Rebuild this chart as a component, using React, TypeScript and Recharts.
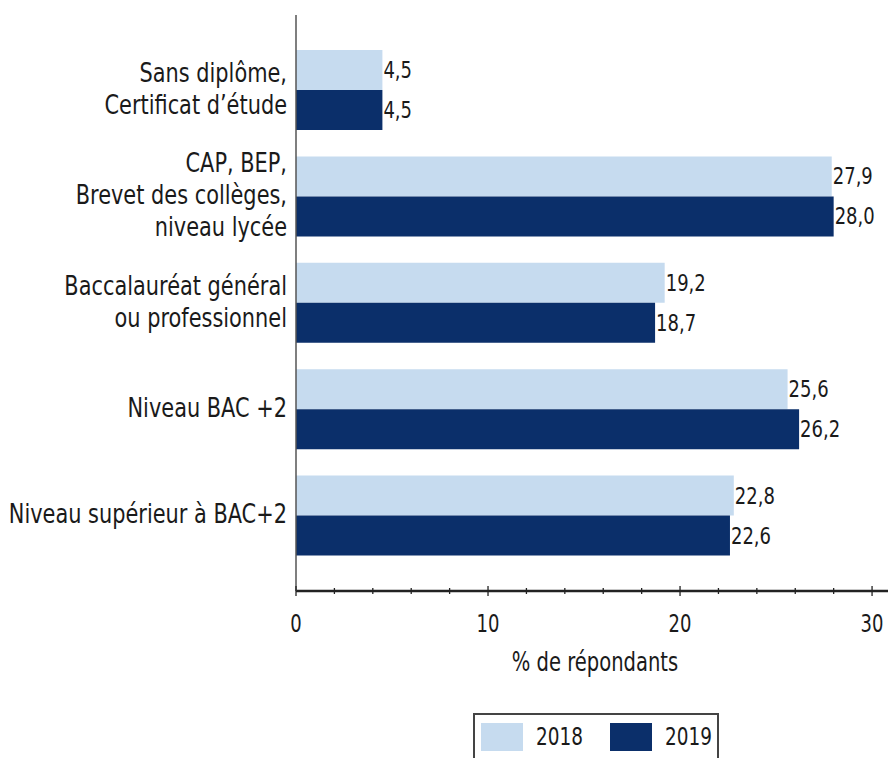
import React from 'react';
import { BarChart, Bar, XAxis, YAxis, LabelList } from 'recharts';

const categories = [
  'Sans diplôme,\nCertificat d’étude',
  'CAP, BEP,\nBrevet des collèges,\nniveau lycée',
  'Baccalauréat général\nou professionnel',
  'Niveau BAC +2',
  'Niveau supérieur à BAC+2',
];
const values2018 = [4.5, 27.9, 19.2, 25.6, 22.8];
const values2019 = [4.5, 28.0, 18.7, 26.2, 22.6];
const seriesNames = ['2018', '2019'];
const xTicks = [0, 2, 4, 6, 8, 10, 12, 14, 16, 18, 20, 22, 24, 26, 28, 30];
const xMajorTicks = [0, 10, 20, 30];
const xAxisLabel = '% de répondants';

const COLORS = ['#c6dbef', '#0b2f6a'];
const FONT = '"DejaVu Sans Condensed", "DejaVu Sans", sans-serif';
const TEXT = '#1a1a1a';

const data = categories.map((c, i) => ({ cat: c, s2018: values2018[i], s2019: values2019[i] }));

const YTick = (props: any) => {
  const { x, y, payload } = props;
  const lines = String(payload.value).split('\n');
  const lh = 32;
  const start = -((lines.length - 1) * lh) / 2 - 2;
  return (
    <text
      transform={`translate(${x},${y}) scale(0.86,1)`}
      x={0}
      y={start}
      textAnchor="end"
      fontSize={27}
      fill={TEXT}
      fontFamily={FONT}
      dominantBaseline="central"
    >
      {lines.map((l, i) => (
        <tspan key={i} x={0} y={start + i * lh}>{l}</tspan>
      ))}
    </text>
  );
};

const XTick = (props: any) => {
  const { x, y, payload } = props;
  const major = xMajorTicks.includes(payload.value);
  const h = major ? 5 : 3;
  return (
    <g>
      <line x1={x} x2={x} y1={y - h} y2={y + h} stroke="#222" strokeWidth={1.3} />
      {major && (
        <text
          transform={`translate(${x},${y + 32}) scale(0.8,1)`}
          x={0}
          y={0}
          textAnchor="middle"
          dominantBaseline="central"
          fontSize={25}
          fill={TEXT}
          fontFamily={FONT}
        >
          {payload.value}
        </text>
      )}
    </g>
  );
};

const fmt = (v: any) => Number(v).toFixed(1).replace('.', ',');

const ValueLabel = (p: any) => {
  const { x, y, width, height, value } = p;
  const tx = Number(x) + Number(width) + 1;
  const ty = Number(y) + Number(height) / 2;
  return (
    <text
      transform={`translate(${tx},${ty}) scale(0.87,1)`}
      x={0}
      y={0}
      textAnchor="start"
      dominantBaseline="central"
      fontSize={23}
      fill={TEXT}
      fontFamily={FONT}
    >
      {fmt(value)}
    </text>
  );
};

export default function App() {
  return (
    <div style={{ position: 'fixed', left: 8, top: 8, width: 880, height: 750, overflow: 'hidden', background: '#fff' }}>
      <style>{'html,body{overflow:hidden;}'}</style>
      <BarChart
        width={880}
        height={700}
        data={data}
        layout="vertical"
        margin={{ top: 7, right: 0, left: 0, bottom: 0 }}
        barCategoryGap={13}
        barGap={0}
      >
        <XAxis
          type="number"
          domain={[0, 30.83]}
          ticks={xTicks}
          interval={0}
          allowDataOverflow
          axisLine={{ stroke: '#222', strokeWidth: 2.5 }}
          tickLine={false}
          tickSize={0}
          tickMargin={0}
          tick={<XTick />}
          height={117}
          label={{
            content: (p: any) => {
              const vb = p.viewBox || {};
              const cx = vb.x + vb.width / 2 + 3;
              return (
                <text
                  transform={`translate(${cx},${vb.y + 71}) scale(0.82,1)`}
                  x={0}
                  y={0}
                  textAnchor="middle"
                  dominantBaseline="central"
                  fontSize={26.5}
                  fill={TEXT}
                  fontFamily={FONT}
                >
                  {xAxisLabel}
                </text>
              );
            },
          }}
        />
        <YAxis
          type="category"
          dataKey="cat"
          width={288}
          padding={{ top: 22, bottom: 22 }}
          axisLine={{ stroke: '#555', strokeWidth: 1.5 }}
          tickLine={false}
          tickSize={0}
          tickMargin={9}
          interval={0}
          tick={<YTick />}
        />
        <Bar dataKey="s2018" name={seriesNames[0]} fill={COLORS[0]} isAnimationActive={false}>
          <LabelList dataKey="s2018" content={<ValueLabel />} />
        </Bar>
        <Bar dataKey="s2019" name={seriesNames[1]} fill={COLORS[1]} isAnimationActive={false}>
          <LabelList dataKey="s2019" content={<ValueLabel />} />
        </Bar>
      </BarChart>
      <div
        style={{
          position: 'absolute',
          left: 465,
          top: 705,
          width: 246,
          height: 60,
          border: '2px solid #444',
          background: '#fff',
          boxSizing: 'border-box',
          fontFamily: FONT,
          fontSize: 25,
          color: TEXT,
        }}
      >
        {seriesNames.map((n, i) => (
          <div key={n} style={{ position: 'absolute', top: 8, left: 6 + i * 129, display: 'flex', alignItems: 'center', height: 28 }}>
            <div style={{ width: 42, height: 28, background: COLORS[i] }} />
            <span style={{ marginLeft: 13, display: 'inline-block', transform: 'scaleX(0.82)', transformOrigin: 'left center', lineHeight: '28px' }}>{n}</span>
          </div>
        ))}
      </div>
    </div>
  );
}
